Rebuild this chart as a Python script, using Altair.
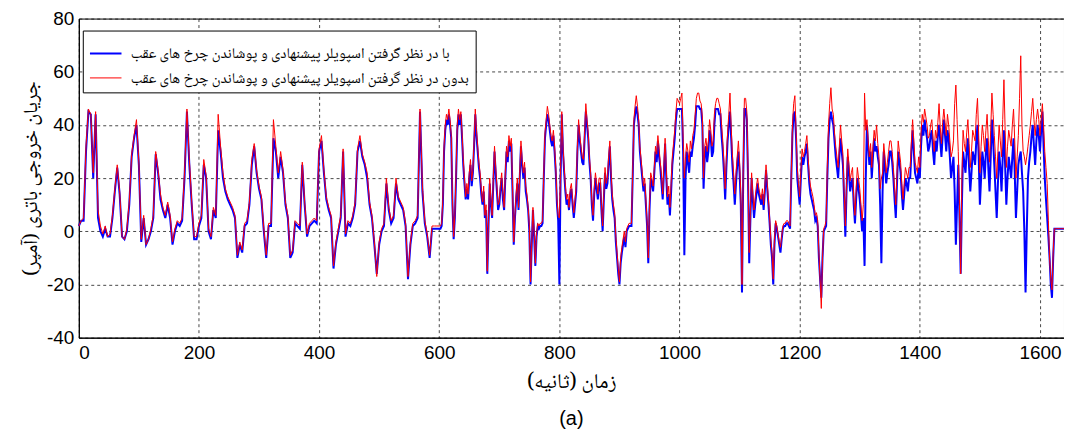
import altair as alt
import pandas as pd

# time axis (s): every 4 s up to 596 s, every 2 s from 600 s (denser part of the trace)
time_s = list(range(0, 600, 4)) + list(range(600, 1641, 2))

# battery current (A) with spoiler + rear wheel covers (blue)
blue_current = [
    # 0 - 596 s (4 s step)
    2, 4, 4, 30, 45, 44, 20, 44, 5, 0,
    -2, 1, -2, -2, 5, 15, 24, 14, -2, -3,
    0, 10, 28, 35, 40, 25, -4, 5, -5, -3,
    0, 5, 29, 22, 12, 8, 5, 10, 5, -5,
    0, 3, 2, 4, 20, 45, 25, 10, -3, -3,
    2, 5, 25, 20, 0, -3, 8, 5, 38, 30,
    20, 15, 12, 10, 8, 5, -10, -5, -8, 2,
    3, 10, 25, 32, 22, 16, 12, 0, -10, 2,
    2, 35, 30, 20, 28, 22, 10, 5, -10, -8,
    3, 2, 1, 25, 10, -2, 2, 3, 4, 3,
    30, 34, 22, 12, 8, 5, -14, -5, 0, 5,
    30, -2, 3, 2, 5, 10, 30, 34, 28, 25,
    20, 10, 5, -5, -16, -5, 0, 2, 18, 8,
    3, 5, 18, 12, 10, 8, 2, -18, -5, 2,
    3, 5, 45, 15, 3, -2, -10, 1, 1, 1,
    # 600 - 1640 s (2 s step)
    1, 1, 2, 10, 30, 38, 42, 40, 44, 40, 35, 10, -3, 5, 20, 38, 44, 40, 44, 35,
    25, 18, 12, 16, 12, 20, 25, 17, 22, 32, 44, 36, 30, 24, 20, 14, 10, 15, 5, 8,
    -16, 2, 18, 10, 5, 18, 30, 22, 15, 8, 10, 16, 20, 12, 8, 20, 30, 26, 34, 30,
    33, 15, -5, 5, 12, 18, 8, 20, 32, 25, 20, 24, 15, 12, 8, 0, -20, -5, 8, -2,
    -13, -2, 2, 1, 2, 2, 3, 20, 35, 40, 44, 42, 38, 34, 32, 36, 30, 22, 10, 4,
    -20, 20, 44, 30, 22, 15, 10, 12, 8, 14, 16, 10, 5, 10, 15, 30, 40, 34, 30, 26,
    25, 35, 45, 40, 35, 26, 20, 10, 4, 14, 20, 16, 12, 18, 18, 8, 0, 12, 22, 16,
    18, 26, 32, 20, 12, 8, 5, -4, -10, -16, -20, -12, -8, -5, -2, -6, 0, 1, 2, 2,
    2, 20, 40, 44, 47, 44, 40, 30, 25, 20, 15, 18, 10, 2, -12, 8, 20, 18, 15, 22,
    30, 26, 34, 28, 24, 18, 12, 22, 33, 20, 10, 14, 6, 15, 25, 30, 35, 42, 46, 46,
    46, 46, 46, 30, -9, 20, 30, 26, 22, 30, 28, 32, 35, 40, 47, 47, 47, 46, 46, 40,
    16, 28, 32, 26, 30, 38, 35, 28, 30, 40, 46, 46, 46, 44, 44, 36, 30, 22, 12, 24,
    34, 40, 45, 35, 25, 18, 10, 18, 25, 30, 22, 10, -23, 20, 46, 46, 42, 20, -12, 5,
    20, 12, 5, 10, 14, 18, 14, 12, 10, 14, 8, 15, 23, 16, 10, 3, -5, -10, -20, -5,
    3, 1, -2, -5, -8, -3, 1, 2, 2, 3, 3, 2, 1, 20, 37, 44, 45, 35, 20, 15,
    10, 20, 28, 25, 28, 30, 33, 25, 18, 14, 12, 10, 8, 4, 5, 2, -10, -18, -25, -10,
    0, 1, 2, 20, 35, 42, 45, 42, 40, 34, 28, 24, 20, 28, 35, 30, 25, 12, -2, 15,
    28, 22, 15, 18, 20, 10, 3, 12, 20, 16, 12, 6, 0, 5, -13, 20, 40, 32, 25, 30,
    20, 28, 35, 30, 32, 28, 25, 10, -12, 15, 30, 24, 18, 22, 25, 30, 30, 26, 20, 12,
    5, 18, 30, 26, 22, 14, 8, 14, 20, 18, 15, 20, 20, 30, 38, 30, 22, 20, 18, 24,
    20, 32, 40, 36, 42, 38, 35, 30, 32, 36, 38, 30, 25, 34, 30, 36, 40, 34, 28, 36,
    42, 36, 30, 38, 35, 28, 20, 24, 28, 15, -5, 10, 25, 5, -16, 10, 30, 26, 22, 30,
    35, 24, 15, 22, 30, 28, 25, 34, 40, 28, 10, 20, 30, 26, 20, 30, 35, 24, 15, 28,
    42, 34, 25, 15, 5, 18, 30, 24, 15, 28, 38, 25, 10, 20, 28, 24, 20, 28, 35, 22,
    5, 15, 25, 28, 30, 22, 15, 0, -23, 0, 20, 26, 30, 36, 40, 32, 25, 34, 40, 36,
    30, 38, 45, 32, 20, 12, 5, -2, -10, -20, -25, -10, 1, 1, 1, 1, 1, 1, 1, 1,
    1,
]

# battery current (A) without spoiler / covers (red)
red_current = [
    # 0 - 596 s (4 s step)
    2, 4, 5, 32, 46, 44, 22, 45, 8, 2,
    -1, 2, -2, -1, 6, 16, 25, 15, -2, -3,
    1, 11, 29, 36, 42, 26, -3, 6, -5, -3,
    1, 6, 30, 23, 14, 9, 6, 11, 6, -4,
    1, 4, 3, 5, 22, 46, 27, 11, -2, -2,
    3, 6, 27, 21, 1, -2, 9, 6, 44, 32,
    22, 16, 13, 11, 9, 6, -9, -4, -7, 3,
    4, 11, 27, 33, 23, 17, 13, 1, -9, 3,
    3, 42, 32, 22, 30, 23, 11, 6, -9, -7,
    4, 3, 2, 26, 11, -1, 3, 4, 5, 4,
    31, 36, 23, 13, 9, 6, -13, -4, 1, 6,
    31, -1, 4, 3, 6, 11, 31, 36, 29, 26,
    22, 11, 6, -4, -17, -4, 1, 3, 20, 9,
    4, 6, 20, 13, 11, 9, 3, -17, -4, 3,
    4, 6, 46, 17, 4, -1, -9, 2, 2, 2,
    # 600 - 1640 s (2 s step)
    2, 2, 3, 12, 32, 40, 44, 42, 46, 42, 36, 12, -2, 6, 22, 40, 46, 42, 45, 37,
    27, 20, 13, 18, 14, 22, 27, 19, 23, 34, 46, 38, 32, 26, 22, 16, 11, 17, 6, 10,
    -15, 4, 20, 12, 6, 20, 32, 24, 17, 10, 11, 18, 22, 14, 9, 22, 32, 28, 36, 32,
    35, 17, -4, 6, 14, 20, 9, 22, 34, 27, 22, 26, 17, 14, 9, 2, -19, -4, 9, 0,
    -12, -1, 3, 2, 3, 3, 4, 22, 37, 42, 47, 44, 40, 36, 34, 38, 32, 24, 12, 6,
    5, 24, 45, 32, 24, 17, 12, 14, 9, 16, 18, 12, 7, 12, 17, 32, 42, 36, 32, 28,
    27, 37, 48, 42, 37, 28, 22, 12, 6, 16, 22, 18, 14, 20, 20, 10, 2, 14, 24, 18,
    20, 28, 34, 22, 14, 10, 7, -2, -8, -14, -19, -10, -6, -3, 0, -4, 1, 2, 3, 3,
    3, 22, 42, 47, 51, 47, 42, 32, 27, 22, 17, 20, 12, 4, -10, 10, 22, 20, 17, 24,
    32, 29, 36, 31, 26, 21, 14, 25, 35, 23, 13, 17, 9, 18, 28, 33, 38, 45, 50, 49,
    48, 50, 52, 35, 20, 28, 33, 30, 26, 34, 31, 36, 38, 44, 50, 52, 52, 49, 48, 43,
    20, 32, 35, 30, 34, 42, 38, 32, 34, 44, 48, 50, 50, 48, 46, 40, 34, 26, 16, 28,
    37, 44, 52, 39, 29, 22, 14, 22, 28, 34, 26, 14, -20, 24, 50, 50, 45, 24, -8, 8,
    22, 14, 8, 13, 17, 20, 16, 14, 12, 16, 10, 17, 25, 18, 12, 5, -3, -8, -18, -3,
    4, 2, -1, -4, -6, -2, 2, 3, 3, 4, 4, 3, 2, 22, 40, 48, 51, 38, 24, 18,
    13, 23, 31, 28, 30, 33, 36, 28, 21, 17, 15, 13, 10, 6, 7, 4, -8, -18, -29, -10,
    1, 2, 4, 24, 40, 48, 54, 46, 44, 37, 32, 28, 24, 32, 40, 34, 29, 15, 2, 18,
    31, 25, 19, 22, 24, 13, 6, 16, 24, 20, 16, 10, 4, 10, 52, 38, 42, 34, 28, 33,
    24, 32, 38, 34, 40, 33, 28, 16, 20, 22, 33, 28, 22, 26, 30, 34, 34, 30, 24, 16,
    10, 22, 34, 30, 26, 18, 12, 18, 24, 22, 20, 24, 24, 34, 42, 34, 26, 24, 22, 28,
    24, 37, 44, 41, 46, 43, 40, 35, 36, 40, 42, 35, 30, 38, 35, 41, 48, 39, 33, 41,
    46, 41, 36, 44, 40, 34, 28, 30, 34, 48, 55, 42, 30, 10, -16, 20, 38, 33, 30, 37,
    42, 33, 24, 30, 38, 36, 34, 44, 50, 36, 22, 32, 40, 36, 30, 38, 44, 34, 26, 38,
    52, 44, 36, 28, 20, 30, 40, 34, 28, 42, 57, 38, 24, 32, 38, 35, 32, 40, 46, 34,
    20, 28, 36, 50, 66, 40, 30, 28, 25, 28, 32, 36, 40, 45, 50, 42, 36, 42, 46, 42,
    36, 42, 48, 40, 30, 24, 18, 4, -10, -18, -22, -8, 1, 1, 1, 1, 1, 1, 1, 1,
    1,
]

label_blue = "با در نظر گرفتن اسپویلر پیشنهادی و پوشاندن چرخ های عقب"
label_red = "بدون در نظر گرفتن اسپویلر پیشنهادی و پوشاندن چرخ های عقب"
series_labels = [label_blue, label_red]
series_colors = ["#0000ff", "#ff0000"]
series_widths = [2.0, 1.0]

x_ticks = [0, 200, 400, 600, 800, 1000, 1200, 1400, 1600]
y_ticks = [-40, -20, 0, 20, 40, 60, 80]

n = len(time_s)
df = pd.DataFrame({
    "t": time_s + time_s,
    "v": blue_current + red_current,
    "s": [label_blue] * n + [label_red] * n,
})

PERSIAN = "'Noto Naskh Arabic', 'Noto Sans Arabic', 'DejaVu Sans', sans-serif"
NUMF = "Liberation Sans"

x_enc = alt.X("t:Q", scale=alt.Scale(domain=[0, 1640], nice=False, zero=False),
              axis=alt.Axis(values=x_ticks, labelExpr="'' + datum.value",
                            title="زمان (ثانیه)", titleFont=PERSIAN,
                            titleFontSize=21, titleFontWeight="normal", titlePadding=8,
                            labelPadding=6))
y_enc = alt.Y("v:Q", scale=alt.Scale(domain=[-40, 80], nice=False),
              axis=alt.Axis(values=y_ticks, labelExpr="'' + datum.value",
                            title="جریان خروجی باتری (آمپر)", titleFont=PERSIAN,
                            titleFontSize=20, titleFontWeight="normal", titlePadding=6,
                            labelPadding=5))
color_enc = alt.Color("s:N", scale=alt.Scale(domain=series_labels, range=series_colors),
                      legend=alt.Legend(title=None, orient="none", legendX=4, legendY=12,
                                        fillColor="white", strokeColor="black", padding=6,
                                        labelFont=PERSIAN, labelFontSize=15, labelLimit=600,
                                        symbolType="stroke", symbolSize=1000,
                                        symbolStrokeWidth=2, labelOffset=8,
                                        labelColor="black", rowPadding=0))
width_enc = alt.StrokeWidth("s:N", scale=alt.Scale(domain=series_labels, range=series_widths),
                            legend=None)

base = alt.Chart(df).mark_line(interpolate="linear").encode(
    x=x_enc, y=y_enc, color=color_enc, strokeWidth=width_enc
)

blue_layer = base.transform_filter(alt.datum.s == label_blue)
red_layer = base.transform_filter(alt.datum.s == label_red)

chart = alt.layer(blue_layer, red_layer).properties(
    width=988, height=320,
    autosize=alt.AutoSizeParams(type="none"),
    padding={"left": 71, "top": 10, "right": 0, "bottom": 99},
    title=alt.TitleParams("(a)", orient="bottom", font=NUMF, fontSize=20,
                          fontWeight="normal", anchor="middle", offset=18, color="black"),
).configure_view(
    stroke="black", strokeWidth=1
).configure_axis(
    grid=True, gridColor="black", gridDash=[3, 3], gridOpacity=0.9, gridWidth=0.8,
    domainColor="black", domainWidth=1, ticks=False,
    labelFont=NUMF, labelFontSize=19, labelColor="black", titleColor="black"
)

chart.save("out.html", embed_options={"renderer": "svg", "actions": False})
